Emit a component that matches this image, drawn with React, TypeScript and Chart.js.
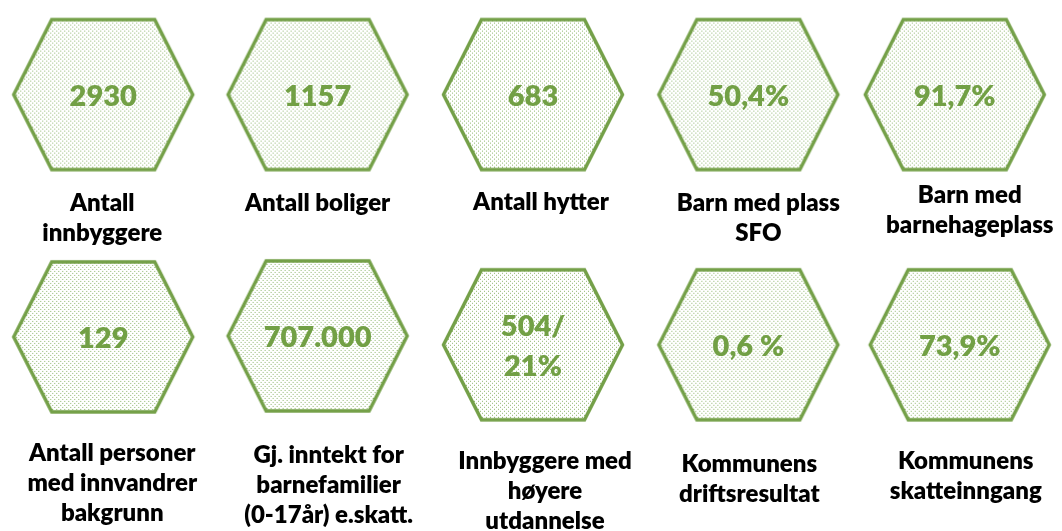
import React, { useEffect, useRef } from "react";
import { Chart, registerables } from "chart.js";

Chart.register(...registerables);

// ---- data ----
const values = ["2930", "1157", "683", "50,4%", "91,7%", "129", "707.000", "504/\n21%", "0,6 %", "73,9%"];
const labels = [
  "Antall\ninnbyggere",
  "Antall boliger",
  "Antall hytter",
  "Barn med plass\nSFO",
  "Barn med\nbarnehageplass",
  "Antall personer\nmed innvandrer\nbakgrunn",
  "Gj. inntekt for\nbarnefamilier\n(0-17år) e.skatt.",
  "Innbyggere med\nhøyere\nutdannelse",
  "Kommunens\ndriftsresultat",
  "Kommunens\nskatteinngang",
];

// ---- layout (scale units = page pixels) ----
const hexX = [100, 316, 533, 750, 958, 100, 316, 533, 750, 963];
const hexY = [92, 92, 92, 92, 92, 338, 337, 346, 346, 346];
const labelDX = [-1, 0, 8, 10, 15, 9, 11, 12, 1, 6];
const labelDY = [116, 116, 115, 116, 108, 124, 127, 124, 127, 124];

const GREEN = "#74A048";
const VALUE_GREEN = "#72A045";
const FONT = "Lato, 'Open Sans', sans-serif";

function makeHexImage(): HTMLCanvasElement {
  const c = document.createElement("canvas");
  c.width = 190;
  c.height = 160;
  const ctx = c.getContext("2d")!;
  const tile = document.createElement("canvas");
  tile.width = 4;
  tile.height = 4;
  const t = tile.getContext("2d")!;
  t.fillStyle = "#ffffff";
  t.fillRect(0, 0, 4, 4);
  t.fillStyle = "rgba(125,170,85,0.85)";
  t.fillRect(0, 0, 1, 1);
  t.fillRect(2, 2, 1, 1);
  const pat = ctx.createPattern(tile, "repeat")!;
  const w = 179, h = 150, inset = 38;
  const cx = 95, cy = 80;
  ctx.beginPath();
  ctx.moveTo(cx - w / 2, cy);
  ctx.lineTo(cx - w / 2 + inset, cy - h / 2);
  ctx.lineTo(cx + w / 2 - inset, cy - h / 2);
  ctx.lineTo(cx + w / 2, cy);
  ctx.lineTo(cx + w / 2 - inset, cy + h / 2);
  ctx.lineTo(cx - w / 2 + inset, cy + h / 2);
  ctx.closePath();
  ctx.fillStyle = pat;
  ctx.fill();
  ctx.lineWidth = 3.5;
  ctx.strokeStyle = GREEN;
  ctx.lineJoin = "miter";
  ctx.stroke();
  return c;
}

const textPlugin = {
  id: "hexText",
  afterDatasetsDraw(chart: any) {
    const ctx = chart.ctx;
    const meta = chart.getDatasetMeta(0);
    ctx.save();
    ctx.textAlign = "center";
    ctx.textBaseline = "alphabetic";
    meta.data.forEach((pt: any, i: number) => {
      const x = pt.x;
      const y = pt.y;
      // value
      const vLines = values[i].split("\n");
      ctx.font = `800 29px ${FONT}`;
      ctx.fillStyle = VALUE_GREEN;
      const vLH = 40;
      vLines.forEach((ln, k) => {
        ctx.fillText(ln, x, y + 11 - ((vLines.length - 1) * vLH) / 2 + k * vLH);
      });
      // label
      const lLines = labels[i].split("\n");
      ctx.font = `800 24px ${FONT}`;
      ctx.fillStyle = "#000000";
      lLines.forEach((ln, k) => {
        ctx.fillText(ln, x + labelDX[i], y + labelDY[i] + k * 30);
      });
    });
    ctx.restore();
  },
};

export default function App() {
  const ref = useRef<HTMLCanvasElement | null>(null);
  useEffect(() => {
    document.body.style.margin = "0";
    const img = makeHexImage();
    const chart = new Chart(ref.current!, {
      type: "scatter",
      data: {
        datasets: [
          {
            data: hexX.map((x, i) => ({ x, y: hexY[i] })),
            pointStyle: img as any,
            pointRadius: 3,
            pointHoverRadius: 3,
          },
        ],
      },
      options: {
        animation: false,
        responsive: true,
        maintainAspectRatio: false,
        layout: { padding: 0 },
        events: [],
        plugins: { legend: { display: false }, tooltip: { enabled: false } },
        scales: {
          x: { type: "linear", min: 0, max: 1062, display: false },
          y: { type: "linear", min: 0, max: 531, reverse: true, display: false },
        },
      },
      plugins: [textPlugin],
    });
    return () => chart.destroy();
  }, []);
  return (
    <div style={{ width: 1062, height: 531, position: "relative", background: "#fff" }}>
      <canvas ref={ref} />
    </div>
  );
}
